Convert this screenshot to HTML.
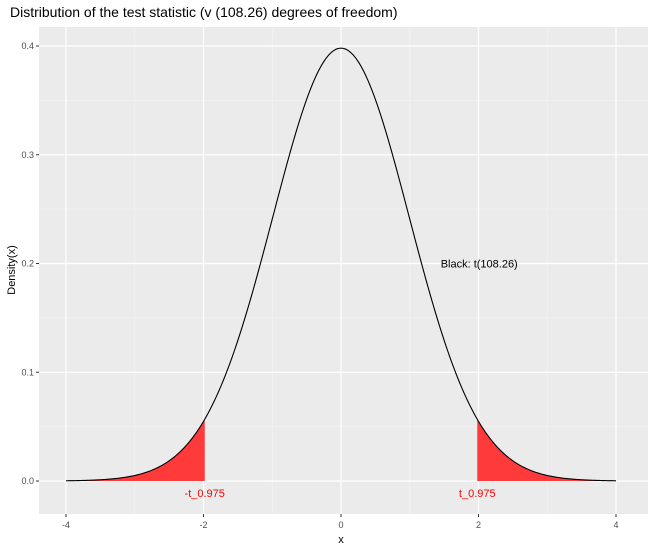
<!DOCTYPE html>
<html><head><meta charset="utf-8"><style>
body{margin:0;background:#fff;font-family:"Liberation Sans",sans-serif}
</style></head><body>
<svg id="chart" width="650" height="550" xmlns="http://www.w3.org/2000/svg" font-family="Liberation Sans, sans-serif">
<text x="10" y="17" font-size="14" fill="#000">Distribution of the test statistic (v (108.26) degrees of freedom)</text>
<rect x="39" y="27" width="609" height="487" fill="#ebebeb"/>
<g id="grid"></g>
<g id="marks"></g>
<g id="axes"></g>
<text x="341" y="543" font-size="11" text-anchor="middle">x</text>
<text transform="translate(15,270) rotate(-90)" font-size="11" text-anchor="middle">Density(x)</text>
</svg>
<script>
const dfValues=[108.26];
const critValues=[1.982];
const xTicks=[-4,-2,0,2,4];
const yTicks=[0.0,0.1,0.2,0.3,0.4];
const yTickLabels=["0.0","0.1","0.2","0.3","0.4"];
const xRange=[-4,4];
const annotText=["Black: t(108.26)"];
const annotPos=[[1.45,0.2]];
const critLabels=["-t_0.975","t_0.975"];

const NS="http://www.w3.org/2000/svg";
const sx=v=>341+v*68.75;
const sy=v=>481-v*1087.5;
function lg(a,b){}
function gammaLn(z){const g=7,c=[0.99999999999980993,676.5203681218851,-1259.1392167224028,771.32342877765313,-176.61502916214059,12.507343278686905,-0.13857109526572012,9.9843695780195716e-6,1.5056327351493116e-7];z-=1;let x=c[0];for(let i=1;i<9;i++)x+=c[i]/(z+i);const t=z+g+0.5;return 0.5*Math.log(2*Math.PI)+(z+0.5)*Math.log(t)-t+Math.log(x);}
const nu=dfValues[0];
const C=Math.exp(gammaLn((nu+1)/2)-gammaLn(nu/2))/Math.sqrt(nu*Math.PI);
const pdf=x=>C*Math.pow(1+x*x/nu,-(nu+1)/2);
function el(t,a,p){const e=document.createElementNS(NS,t);for(const k in a)e.setAttribute(k,a[k]);p.appendChild(e);return e;}
const grid=document.getElementById('grid'),marks=document.getElementById('marks'),axes=document.getElementById('axes');
// minor grid
for(let i=0;i<xTicks.length-1;i++){const m=(xTicks[i]+xTicks[i+1])/2;const l=el('line',{x1:sx(m),x2:sx(m),y1:27,y2:514,stroke:'#f5f5f5','stroke-width':0.6},grid);

}
for(let i=0;i<yTicks.length-1;i++){const m=(yTicks[i]+yTicks[i+1])/2;const l=el('line',{x1:39,x2:648,y1:sy(m),y2:sy(m),stroke:'#f5f5f5','stroke-width':0.6},grid);

}
xTicks.forEach(v=>{const l=el('line',{x1:sx(v),x2:sx(v),y1:27,y2:514,stroke:'#fff','stroke-width':1.2},grid);


const t=el('line',{x1:sx(v),x2:sx(v),y1:514,y2:517,stroke:'#333'},axes);


const tx=el('text',{x:sx(v),y:528,'font-size':9,'text-anchor':'middle',fill:'#4d4d4d'},axes);tx.textContent=v;

});
yTicks.forEach((v,i)=>{const l=el('line',{x1:39,x2:648,y1:sy(v),y2:sy(v),stroke:'#fff','stroke-width':1.2},grid);


const t=el('line',{x1:36,x2:39,y1:sy(v),y2:sy(v),stroke:'#333'},axes);


const tx=el('text',{x:34,y:sy(v)+3,'font-size':9,'text-anchor':'end',fill:'#4d4d4d'},axes);tx.textContent=yTickLabels[i];

});
const cr=critValues[0];
function area(a,b){let d=`M${sx(a)},${sy(0)}`;const n=80;for(let i=0;i<=n;i++){const x=a+(b-a)*i/n;d+=`L${sx(x)},${sy(pdf(x))}`;}return d+`L${sx(b)},${sy(0)}Z`;}
const la=el('path',{d:area(xRange[0],-cr),fill:'#ff3a3a'},marks);


const ra=el('path',{d:area(cr,xRange[1]),fill:'#ff3a3a'},marks);


let d='';for(let i=0;i<=400;i++){const x=xRange[0]+(xRange[1]-xRange[0])*i/400;d+=(i?'L':'M')+sx(x)+','+sy(pdf(x));}
const cv=el('path',{d,fill:'none',stroke:'#000','stroke-width':1.1},marks);


const an=el('text',{x:sx(annotPos[0][0]),y:sy(annotPos[0][1])+4,'font-size':11,fill:'#000'},marks);an.textContent=annotText[0];


[-cr,cr].forEach((v,i)=>{const t=el('text',{x:sx(v),y:497,'font-size':11,'text-anchor':'middle',fill:'#ff0000'},marks);t.textContent=critLabels[i];

});
</script>
</body></html>
